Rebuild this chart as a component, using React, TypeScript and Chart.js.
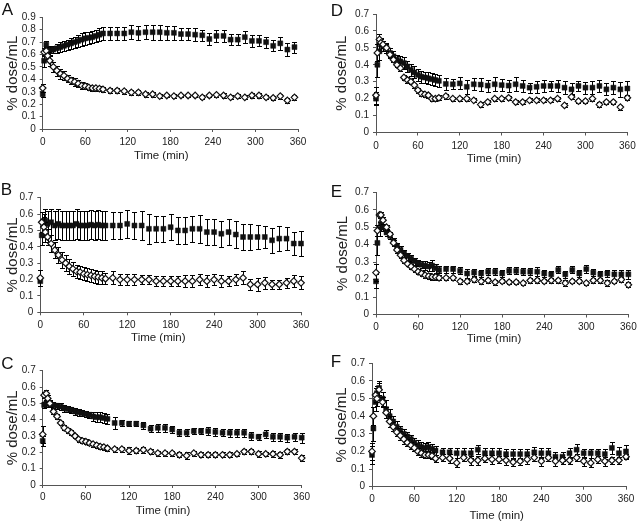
import React, { useEffect, useRef } from 'react';
import { Chart, registerables } from 'chart.js';

Chart.register(...registerables);
Chart.defaults.font.family = "'Liberation Sans', Arial, sans-serif";

// ---------------- data ----------------
const TIMES_A = [0, 2, 5, 7, 10, 15, 20, 25, 30, 35, 40, 45, 50, 55, 60, 65, 70, 75, 80, 85,
  95, 105, 115, 125, 135, 145, 155, 165, 175, 185, 195, 205, 215, 225, 235, 245, 255, 265, 275, 285, 295, 305, 315, 325, 335, 345, 355];
const TIMES = [0, 2, 5, 7, 10, 15, 20, 25, 30, 35, 40, 45, 50, 55, 60, 65, 70, 75, 80, 85, 90,
  100, 110, 120, 130, 140, 150, 160, 170, 180, 190, 200, 210, 220, 230, 240, 250, 260, 270, 280, 290, 300, 310, 320, 330, 340, 350, 360];
const X_TICKS = [0, 60, 120, 180, 240, 300, 360];

// Panel A
const A_FILLED = [0.28, 0.55, 0.68, 0.64, 0.63, 0.64, 0.65, 0.66, 0.67, 0.68, 0.69, 0.70, 0.71, 0.72, 0.73, 0.735, 0.74, 0.75, 0.76, 0.77,
  0.77, 0.77, 0.77, 0.78, 0.775, 0.78, 0.78, 0.78, 0.775, 0.775, 0.765, 0.765, 0.76, 0.755, 0.725, 0.75, 0.75, 0.72, 0.72, 0.74, 0.71, 0.71, 0.70, 0.67, 0.69, 0.64, 0.66];
const A_FILLED_ERR = [0.02, 0.05, 0.03, 0.03, 0.03, 0.03, 0.035, 0.04, 0.04, 0.04, 0.045, 0.045, 0.05, 0.05, 0.05, 0.05, 0.05, 0.05, 0.05, 0.05,
  0.055, 0.05, 0.05, 0.055, 0.055, 0.055, 0.06, 0.06, 0.055, 0.055, 0.05, 0.05, 0.05, 0.045, 0.045, 0.05, 0.045, 0.045, 0.045, 0.05, 0.05, 0.045, 0.045, 0.045, 0.05, 0.05, 0.045];
const A_OPEN = [0.33, 0.62, 0.63, 0.59, 0.55, 0.50, 0.47, 0.445, 0.43, 0.405, 0.39, 0.38, 0.365, 0.35, 0.345, 0.335, 0.33, 0.33, 0.325, 0.32,
  0.31, 0.31, 0.305, 0.295, 0.295, 0.28, 0.28, 0.265, 0.27, 0.265, 0.27, 0.27, 0.27, 0.255, 0.27, 0.275, 0.27, 0.255, 0.265, 0.255, 0.27, 0.27, 0.255, 0.25, 0.265, 0.23, 0.255];
const A_OPEN_ERR = [0.03, 0.03, 0.03, 0.03, 0.04, 0.04, 0.04, 0.04, 0.035, 0.03, 0.03, 0.03, 0.03, 0.025, 0.025, 0.02, 0.02, 0.02, 0.02, 0.02,
  0.02, 0.02, 0.02, 0.02, 0.02, 0.02, 0.02, 0.015, 0.015, 0.015, 0.015, 0.015, 0.015, 0.015, 0.015, 0.015, 0.02, 0.015, 0.015, 0.015, 0.02, 0.02, 0.015, 0.015, 0.02, 0.02, 0.02];

// Panel B
const B_FILLED = [0.19, 0.47, 0.55, 0.56, 0.54, 0.55, 0.53, 0.54, 0.53, 0.53, 0.53, 0.53, 0.54, 0.53, 0.53, 0.53, 0.535, 0.53, 0.535, 0.53, 0.53,
  0.53, 0.53, 0.54, 0.53, 0.53, 0.51, 0.51, 0.51, 0.52, 0.50, 0.50, 0.51, 0.51, 0.49, 0.49, 0.48, 0.49, 0.475, 0.46, 0.46, 0.46, 0.46, 0.44, 0.45, 0.45, 0.42, 0.42];
const B_FILLED_ERR = [0.03, 0.06, 0.05, 0.07, 0.08, 0.08, 0.09, 0.09, 0.09, 0.09, 0.09, 0.09, 0.09, 0.09, 0.09, 0.09, 0.09, 0.09, 0.09, 0.09, 0.09,
  0.085, 0.085, 0.085, 0.085, 0.09, 0.09, 0.08, 0.08, 0.08, 0.08, 0.08, 0.08, 0.085, 0.08, 0.08, 0.08, 0.08, 0.08, 0.08, 0.08, 0.075, 0.07, 0.075, 0.075, 0.07, 0.07, 0.075];
const B_OPEN = [0.21, 0.55, 0.52, 0.49, 0.46, 0.42, 0.38, 0.35, 0.32, 0.30, 0.28, 0.265, 0.25, 0.245, 0.235, 0.23, 0.225, 0.22, 0.215, 0.21, 0.205,
  0.21, 0.20, 0.20, 0.20, 0.20, 0.20, 0.19, 0.19, 0.19, 0.19, 0.19, 0.19, 0.20, 0.19, 0.20, 0.19, 0.19, 0.20, 0.21, 0.17, 0.17, 0.18, 0.17, 0.17, 0.18, 0.19, 0.18];
const B_OPEN_ERR = [0.05, 0.06, 0.06, 0.06, 0.05, 0.05, 0.05, 0.05, 0.05, 0.05, 0.045, 0.045, 0.04, 0.04, 0.04, 0.04, 0.04, 0.04, 0.04, 0.04, 0.035,
  0.04, 0.035, 0.035, 0.035, 0.03, 0.03, 0.03, 0.03, 0.03, 0.03, 0.035, 0.035, 0.035, 0.035, 0.035, 0.035, 0.03, 0.035, 0.04, 0.035, 0.04, 0.035, 0.03, 0.03, 0.03, 0.035, 0.04];

// Panel C
const C_FILLED = [0.27, 0.49, 0.50, 0.50, 0.495, 0.49, 0.485, 0.48, 0.47, 0.465, 0.46, 0.45, 0.445, 0.44, 0.435, 0.43, 0.42, 0.415, 0.415, 0.41, 0.405,
  0.38, 0.38, 0.375, 0.375, 0.365, 0.345, 0.35, 0.35, 0.34, 0.32, 0.32, 0.33, 0.33, 0.33, 0.325, 0.32, 0.32, 0.32, 0.32, 0.30, 0.295, 0.31, 0.295, 0.295, 0.29, 0.295, 0.29];
const C_FILLED_ERR = [0.03, 0.02, 0.02, 0.02, 0.02, 0.02, 0.02, 0.02, 0.02, 0.02, 0.02, 0.02, 0.02, 0.02, 0.02, 0.02, 0.025, 0.03, 0.03, 0.03, 0.03,
  0.035, 0.02, 0.015, 0.015, 0.02, 0.02, 0.025, 0.025, 0.02, 0.02, 0.02, 0.02, 0.02, 0.025, 0.025, 0.02, 0.025, 0.025, 0.025, 0.025, 0.02, 0.025, 0.025, 0.025, 0.025, 0.025, 0.03];
const C_OPEN = [0.31, 0.55, 0.56, 0.53, 0.50, 0.45, 0.42, 0.38, 0.35, 0.335, 0.32, 0.30, 0.28, 0.27, 0.265, 0.257, 0.25, 0.243, 0.235, 0.232, 0.225,
  0.22, 0.22, 0.21, 0.21, 0.215, 0.205, 0.195, 0.195, 0.195, 0.185, 0.18, 0.195, 0.185, 0.185, 0.185, 0.185, 0.185, 0.19, 0.205, 0.205, 0.19, 0.19, 0.19, 0.185, 0.205, 0.205, 0.165];
const C_OPEN_ERR = [0.05, 0.02, 0.02, 0.02, 0.02, 0.015, 0.015, 0.015, 0.015, 0.015, 0.015, 0.015, 0.015, 0.015, 0.015, 0.015, 0.015, 0.015, 0.015, 0.015, 0.015,
  0.015, 0.015, 0.02, 0.015, 0.02, 0.015, 0.015, 0.015, 0.015, 0.015, 0.02, 0.015, 0.015, 0.015, 0.015, 0.015, 0.015, 0.015, 0.015, 0.015, 0.02, 0.015, 0.02, 0.02, 0.015, 0.015, 0.02];

// Panel D
const D_FILLED = [0.20, 0.40, 0.48, 0.52, 0.51, 0.50, 0.47, 0.45, 0.43, 0.42, 0.41, 0.39, 0.37, 0.355, 0.34, 0.33, 0.325, 0.32, 0.315, 0.31, 0.305,
  0.287, 0.285, 0.29, 0.27, 0.285, 0.283, 0.277, 0.285, 0.28, 0.277, 0.285, 0.275, 0.265, 0.27, 0.275, 0.275, 0.275, 0.265, 0.255, 0.275, 0.265, 0.265, 0.275, 0.255, 0.265, 0.255, 0.26];
const D_FILLED_ERR = [0.04, 0.07, 0.05, 0.04, 0.03, 0.03, 0.03, 0.03, 0.03, 0.03, 0.035, 0.035, 0.035, 0.035, 0.035, 0.035, 0.035, 0.035, 0.035, 0.035, 0.035,
  0.035, 0.03, 0.035, 0.04, 0.035, 0.04, 0.035, 0.04, 0.035, 0.035, 0.04, 0.035, 0.03, 0.035, 0.035, 0.03, 0.035, 0.04, 0.035, 0.03, 0.035, 0.04, 0.035, 0.035, 0.04, 0.045, 0.045];
const D_OPEN = [0.22, 0.47, 0.55, 0.53, 0.52, 0.50, 0.46, 0.43, 0.40, 0.38, 0.325, 0.31, 0.30, 0.28, 0.25, 0.23, 0.225, 0.22, 0.20, 0.20, 0.205,
  0.215, 0.20, 0.20, 0.20, 0.19, 0.165, 0.18, 0.20, 0.20, 0.205, 0.18, 0.18, 0.19, 0.19, 0.19, 0.19, 0.20, 0.16, 0.21, 0.185, 0.185, 0.20, 0.165, 0.18, 0.18, 0.15, 0.205];
const D_OPEN_ERR = [0.05, 0.05, 0.03, 0.02, 0.02, 0.02, 0.015, 0.015, 0.015, 0.015, 0.015, 0.015, 0.015, 0.015, 0.015, 0.015, 0.015, 0.015, 0.015, 0.015, 0.015,
  0.015, 0.012, 0.012, 0.012, 0.012, 0.015, 0.012, 0.012, 0.012, 0.012, 0.012, 0.012, 0.012, 0.012, 0.012, 0.012, 0.012, 0.012, 0.015, 0.012, 0.012, 0.012, 0.015, 0.012, 0.012, 0.015, 0.015];

// Panel E
const E_FILLED = [0.19, 0.41, 0.49, 0.52, 0.50, 0.47, 0.45, 0.42, 0.39, 0.37, 0.35, 0.335, 0.32, 0.305, 0.295, 0.285, 0.28, 0.275, 0.28, 0.265, 0.255,
  0.26, 0.26, 0.25, 0.235, 0.24, 0.235, 0.245, 0.245, 0.235, 0.25, 0.25, 0.245, 0.245, 0.245, 0.235, 0.23, 0.255, 0.23, 0.255, 0.235, 0.26, 0.24, 0.23, 0.235, 0.23, 0.23, 0.23];
const E_FILLED_ERR = [0.04, 0.07, 0.04, 0.03, 0.02, 0.02, 0.02, 0.02, 0.02, 0.02, 0.02, 0.02, 0.02, 0.02, 0.02, 0.02, 0.025, 0.025, 0.03, 0.025, 0.02,
  0.02, 0.02, 0.02, 0.025, 0.02, 0.02, 0.02, 0.02, 0.02, 0.02, 0.02, 0.02, 0.02, 0.025, 0.02, 0.02, 0.02, 0.02, 0.02, 0.02, 0.025, 0.02, 0.02, 0.02, 0.025, 0.025, 0.025];
const E_OPEN = [0.24, 0.48, 0.57, 0.57, 0.54, 0.50, 0.46, 0.41, 0.37, 0.34, 0.31, 0.29, 0.275, 0.26, 0.245, 0.235, 0.225, 0.22, 0.215, 0.215, 0.21,
  0.21, 0.21, 0.19, 0.19, 0.20, 0.19, 0.195, 0.185, 0.19, 0.185, 0.185, 0.18, 0.195, 0.195, 0.19, 0.195, 0.195, 0.18, 0.19, 0.19, 0.18, 0.195, 0.195, 0.18, 0.19, 0.20, 0.17];
const E_OPEN_ERR = [0.05, 0.03, 0.02, 0.02, 0.02, 0.015, 0.015, 0.015, 0.015, 0.015, 0.015, 0.015, 0.015, 0.015, 0.015, 0.015, 0.015, 0.015, 0.015, 0.015, 0.015,
  0.012, 0.012, 0.015, 0.012, 0.012, 0.015, 0.012, 0.015, 0.012, 0.012, 0.012, 0.012, 0.012, 0.012, 0.012, 0.012, 0.012, 0.015, 0.012, 0.012, 0.012, 0.012, 0.012, 0.015, 0.012, 0.012, 0.015];

// Panel F
const F_FILLED = [0.18, 0.33, 0.48, 0.53, 0.56, 0.50, 0.44, 0.40, 0.37, 0.34, 0.32, 0.30, 0.285, 0.27, 0.25, 0.235, 0.225, 0.22, 0.225, 0.215, 0.205,
  0.195, 0.195, 0.19, 0.19, 0.19, 0.21, 0.19, 0.19, 0.19, 0.185, 0.185, 0.185, 0.185, 0.195, 0.19, 0.19, 0.17, 0.17, 0.19, 0.21, 0.19, 0.19, 0.19, 0.185, 0.22, 0.19, 0.20];
const F_FILLED_ERR = [0.05, 0.07, 0.05, 0.04, 0.04, 0.04, 0.05, 0.04, 0.03, 0.03, 0.025, 0.025, 0.025, 0.025, 0.025, 0.03, 0.03, 0.03, 0.03, 0.025, 0.025,
  0.025, 0.025, 0.03, 0.03, 0.03, 0.025, 0.03, 0.03, 0.03, 0.03, 0.03, 0.03, 0.03, 0.03, 0.03, 0.03, 0.025, 0.025, 0.03, 0.035, 0.025, 0.025, 0.025, 0.03, 0.035, 0.035, 0.035];
const F_OPEN = [0.20, 0.40, 0.52, 0.50, 0.55, 0.48, 0.42, 0.37, 0.34, 0.31, 0.29, 0.27, 0.25, 0.235, 0.22, 0.20, 0.19, 0.18, 0.18, 0.175, 0.16,
  0.165, 0.16, 0.135, 0.165, 0.15, 0.15, 0.16, 0.155, 0.155, 0.15, 0.14, 0.145, 0.155, 0.165, 0.145, 0.165, 0.145, 0.15, 0.15, 0.165, 0.145, 0.135, 0.155, 0.145, 0.15, 0.15, 0.17];
const F_OPEN_ERR = [0.05, 0.05, 0.04, 0.04, 0.04, 0.03, 0.03, 0.03, 0.025, 0.025, 0.025, 0.025, 0.02, 0.02, 0.02, 0.02, 0.02, 0.02, 0.02, 0.02, 0.02,
  0.02, 0.025, 0.025, 0.02, 0.025, 0.025, 0.02, 0.025, 0.02, 0.025, 0.025, 0.02, 0.025, 0.02, 0.025, 0.02, 0.025, 0.02, 0.02, 0.02, 0.025, 0.025, 0.02, 0.025, 0.02, 0.02, 0.015];

// ---------------- layout (positions / styles) ----------------
type PanelCfg = {
  letter: string; x: number; y: number; w: number; h: number; yMax: number;
  times: number[]; filled: number[]; filledErr: number[]; open: number[]; openErr: number[];
  area: { l: number; t: number; r: number; b: number };
  yTitlePad: number; xTickPad: number; xTitle: { x: number; y: number }; letterPos: { x: number; y: number };
};

const PANELS: PanelCfg[] = [
  { letter: 'A', x: 0, y: 0, w: 320, h: 175, yMax: 0.9, times: TIMES_A, filled: A_FILLED, filledErr: A_FILLED_ERR, open: A_OPEN, openErr: A_OPEN_ERR,
    area: { l: 42.7, t: 17.3, r: 298, b: 129 }, yTitlePad: 4, xTickPad: 4.3, xTitle: { x: 161.3, y: 155.5 }, letterPos: { x: 1.7, y: 0.8 } },
  { letter: 'B', x: 0, y: 175, w: 320, h: 175, yMax: 0.7, times: TIMES, filled: B_FILLED, filledErr: B_FILLED_ERR, open: B_OPEN, openErr: B_OPEN_ERR,
    area: { l: 40.3, t: 22.7, r: 301, b: 137.3 }, yTitlePad: 3.8, xTickPad: 4.3, xTitle: { x: 158.3, y: 337.5 }, letterPos: { x: 0.8, y: 180.8 } },
  { letter: 'C', x: 0, y: 350, w: 320, h: 175, yMax: 0.7, times: TIMES, filled: C_FILLED, filledErr: C_FILLED_ERR, open: C_OPEN, openErr: C_OPEN_ERR,
    area: { l: 42.7, t: 20.7, r: 301.7, b: 135 }, yTitlePad: 4.3, xTickPad: 3, xTitle: { x: 163, y: 511 }, letterPos: { x: 1.2, y: 354.8 } },
  { letter: 'D', x: 320, y: 0, w: 320, h: 175, yMax: 0.7, times: TIMES, filled: D_FILLED, filledErr: D_FILLED_ERR, open: D_OPEN, openErr: D_OPEN_ERR,
    area: { l: 56, t: 14, r: 310, b: 132.5 }, yTitlePad: 12.7, xTickPad: 4.3, xTitle: { x: 494, y: 158.5 }, letterPos: { x: 330.8, y: 1.8 } },
  { letter: 'E', x: 320, y: 175, w: 320, h: 175, yMax: 0.7, times: TIMES, filled: E_FILLED, filledErr: E_FILLED_ERR, open: E_OPEN, openErr: E_OPEN_ERR,
    area: { l: 56, t: 17.3, r: 311, b: 139.5 }, yTitlePad: 14.3, xTickPad: 3.3, xTitle: { x: 494, y: 338.5 }, letterPos: { x: 330.8, y: 182.8 } },
  { letter: 'F', x: 320, y: 350, w: 320, h: 175, yMax: 0.7, times: TIMES, filled: F_FILLED, filledErr: F_FILLED_ERR, open: F_OPEN, openErr: F_OPEN_ERR,
    area: { l: 52, t: 13.3, r: 306, b: 136.7 }, yTitlePad: 12.7, xTickPad: 3.5, xTitle: { x: 496.7, y: 516 }, letterPos: { x: 330.8, y: 352.8 } },
];

const AXIS_COLOR = '#555';
const TEXT_COLOR = '#222';
const FONT = "'Liberation Sans', Arial, sans-serif";

const errorBarPlugin = {
  id: 'errorBars',
  beforeDatasetDraw(chart: any, args: any) {
    const ds = chart.data.datasets[args.index];
    const errs: number[] | undefined = ds.errors;
    if (!errs) return;
    const ys = chart.scales.y;
    const ctx = chart.ctx as CanvasRenderingContext2D;
    ctx.save();
    ctx.strokeStyle = '#000';
    ctx.lineWidth = 1;
    ctx.beginPath();
    args.meta.data.forEach((pt: any, i: number) => {
      const v = ds.data[i].y;
      const e = errs[i];
      const xs = Math.round(pt.x) + 0.5;
      const yTop = Math.round(ys.getPixelForValue(v + e)) + 0.5;
      const yBot = Math.round(ys.getPixelForValue(v - e)) + 0.5;
      ctx.moveTo(xs, yTop); ctx.lineTo(xs, yBot);
      ctx.moveTo(xs - 2.5, yTop); ctx.lineTo(xs + 2.5, yTop);
      ctx.moveTo(xs - 2.5, yBot); ctx.lineTo(xs + 2.5, yBot);
    });
    ctx.stroke();
    ctx.restore();
  },
};

function Panel({ cfg }: { cfg: PanelCfg }) {
  const ref = useRef<HTMLCanvasElement>(null);
  useEffect(() => {
    const canvas = ref.current!;
    const { area } = cfg;
    const chart = new Chart(canvas, {
      type: 'scatter',
      data: {
        datasets: [
          {
            label: 'filled',
            data: cfg.times.map((t, i) => ({ x: t, y: cfg.filled[i] })),
            errors: cfg.filledErr,
            pointStyle: 'rect',
            pointRadius: 3.5,
            pointHoverRadius: 3.5,
            backgroundColor: '#111',
            borderColor: '#111',
            borderWidth: 0.5,
            clip: false,
            order: 2,
          } as any,
          {
            label: 'open',
            data: cfg.times.map((t, i) => ({ x: t, y: cfg.open[i] })),
            errors: cfg.openErr,
            pointStyle: 'rectRot',
            pointRadius: 3.3,
            pointHoverRadius: 3.3,
            backgroundColor: '#fff',
            borderColor: '#111',
            borderWidth: 1.2,
            clip: false,
            order: 1,
          } as any,
        ],
      },
      options: {
        animation: false,
        responsive: false,
        maintainAspectRatio: false,
        events: [],
        layout: { padding: { left: 0, top: area.t, right: cfg.w - area.r, bottom: 0 } },
        plugins: { legend: { display: false }, tooltip: { enabled: false } },
        scales: {
          x: {
            type: 'linear',
            min: 0,
            max: 360,
            afterBuildTicks: (s: any) => { s.ticks = X_TICKS.map((v) => ({ value: v })); },
            afterFit: (s: any) => { s.height = cfg.h - area.b; },
            ticks: { font: { size: 10, family: FONT }, color: TEXT_COLOR, padding: cfg.xTickPad, maxRotation: 0, autoSkip: false },
            grid: { display: true, drawOnChartArea: false, drawTicks: true, tickLength: 3, color: AXIS_COLOR, lineWidth: 1 },
            border: { display: true, color: AXIS_COLOR, width: 1 },
          },
          y: {
            type: 'linear',
            min: 0,
            max: cfg.yMax,
            afterFit: (s: any) => { s.width = area.l; },
            ticks: {
              stepSize: 0.1,
              autoSkip: false,
              font: { size: 10, family: FONT },
              color: TEXT_COLOR,
              padding: 4,
              callback: (v: any) => (Math.abs(v) < 1e-9 ? '0' : Number(v).toFixed(1)),
            },
            grid: { display: true, drawOnChartArea: false, drawTicks: true, tickLength: 3, color: AXIS_COLOR, lineWidth: 1 },
            border: { display: true, color: AXIS_COLOR, width: 1 },
            title: {
              display: true,
              text: '% dose/mL',
              color: TEXT_COLOR,
              font: { size: 15, family: FONT },
              padding: { top: cfg.yTitlePad, bottom: 0 },
            },
          },
        },
      } as any,
      plugins: [errorBarPlugin],
    });
    return () => chart.destroy();
  }, [cfg]);
  return (
    <canvas
      ref={ref}
      width={cfg.w}
      height={cfg.h}
      style={{ position: 'absolute', left: cfg.x, top: cfg.y, width: cfg.w, height: cfg.h }}
    />
  );
}

export default function App() {
  return (
    <div style={{ position: 'absolute', left: 0, top: 0, width: 640, height: 525, background: '#fff', overflow: 'hidden', fontFamily: FONT }}>
      {PANELS.map((p) => (
        <Panel key={p.letter} cfg={p} />
      ))}
      {PANELS.map((p) => (
        <div
          key={'t' + p.letter}
          style={{
            position: 'absolute', left: p.xTitle.x, top: p.xTitle.y, transform: 'translate(-50%, -50%)',
            fontSize: 11.5, lineHeight: 1, color: TEXT_COLOR, whiteSpace: 'nowrap',
          }}
        >
          Time (min)
        </div>
      ))}
      {PANELS.map((p) => (
        <div
          key={'l' + p.letter}
          style={{ position: 'absolute', left: p.letterPos.x, top: p.letterPos.y, fontSize: 17, lineHeight: 1, color: '#111' }}
        >
          {p.letter}
        </div>
      ))}
    </div>
  );
}
